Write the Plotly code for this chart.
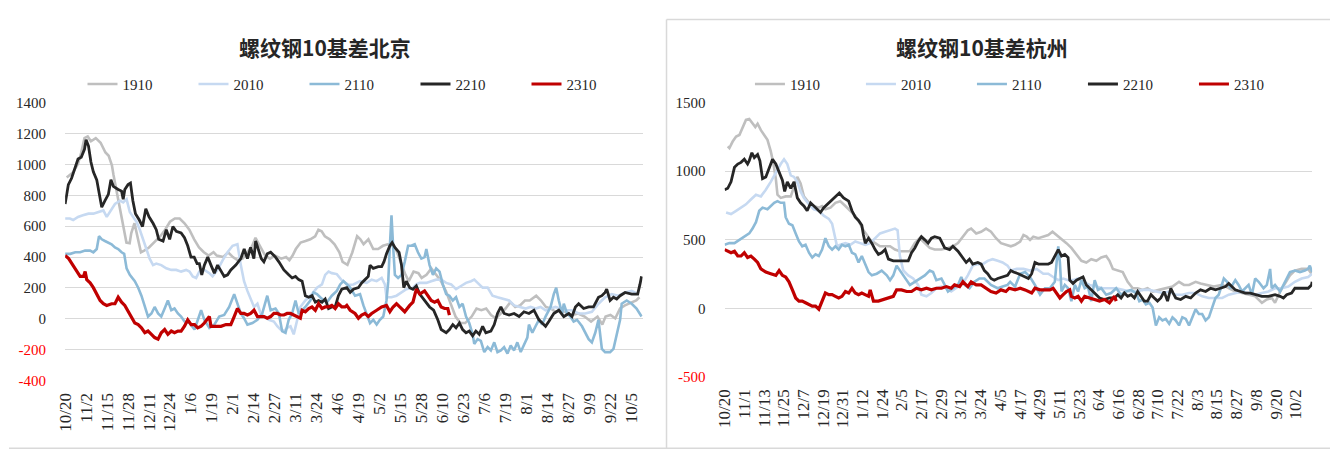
import pandas as pd
import plotly.graph_objects as go

BASE_DATE = "2023-10-20"
SPAN_DAYS = 358
SERIES = ["1910", "2010", "2110", "2210", "2310"]
TITLE_BJ = "螺纹钢10基差北京"
TITLE_HZ = "螺纹钢10基差杭州"

# ---------------- 北京 (left) : day offsets from 10/20 and basis values ----------------
BJ_1910_DAY = [1,5,8,10,12,14,16,19,22,25,27,29,30,32,34,36,38,40,41,43,45,47,49,52,55,59,62,65,68,71,
               74,77,80,83,86,89,92,94,98,101,104,107,110,113,116,118,120,122,124,127,130,134,137,139,141,143,146,149,152,155,
               157,159,161,164,167,170,172,175,178,181,183,185,188,191,194,197,200,203,205,208,211,213,216,219,221,224,227,230,233,236,
               239,242,245,248,252,255,258,261,264,267,270,273,276,279,282,285,288,292,295,298,301,304,307,310,314,318,322,326,330,333,
               335,338,341,344,347,351,354,356]
BJ_1910_VAL = [915,950,1004,1077,1170,1181,1150,1170,1140,1077,1056,994,931,827,723,598,494,490,556,619,
               515,431,442,462,494,535,577,629,650,650,619,577,515,462,431,410,431,410,400,431,
               400,379,390,431,473,525,483,452,410,390,410,390,400,379,410,452,494,504,515,535,
               577,567,535,515,483,431,369,350,430,535,515,483,515,452,452,473,483,473,452,369,
               285,244,306,296,265,285,327,285,244,181,98,15,-27,-27,15,67,56,67,25,4,
               35,67,108,77,87,119,119,150,119,77,67,46,56,46,25,35,15,-17,15,-37,
               15,25,4,67,87,108,119,140]

BJ_2010_DAY = [0,3,5,8,11,14.5,17.5,20.6,23.7,25.8,27.8,30.9,34,36,38.1,40.1,42.2,44.2,46.3,48.3,
               50.4,52.4,54.5,56.5,59.6,62.7,65.8,68.9,71.9,75,77.1,79.1,81.2,83.2,86.3,89.4,91.4,94.5,97.6,100.7,
               103.8,106.8,108.9,110.9,113,115,117.1,119.2,121.2,123.3,126.3,129.4,131.5,133.5,135.6,137.6,139.7,141.7,143.8,145.8,
               148.9,151,153,156.1,159.2,161.2,163.3,165.3,168.4,171.5,175.6,
               178.7,182.8,186.9,190,193.1,196.2,198.2,199.2,202.3,205.4,208.5,211.5,215.6,217.7,219.8,223.9,226.9,230,233.1,236.2,
               239.3,242.3,245.4,248.5,251.6,253.6,255.7,258.8,261.9,264.9,268,271.1,275.2,278.3,281.4,285.5,288.5,291.6,294.7,297.8,
               300.9,303.9,307,310.1,314.2,318.3,322.4,326.5,330.6,334.7,338.8,342.9,347.1,351.2,355.3]
BJ_2010_VAL = [650,650,640,660,671,681,681,692,702,660,692,744,765,754,775,692,660,629,577,515,
               452,390,348,358,348,327,317,317,306,317,306,275,265,306,317,296,275,317,379,431,
               473,483,348,244,181,129,77,98,35,15,-6,-17,-48,-69,-79,-58,-48,-100,-6,77,
               119,140,160,202,223,285,306,296,290,250,220,
               223,244,233,254,244,265,223,140,140,150,171,192,202,223,233,233,244,254,254,233,
               223,192,213,233,244,254,233,202,202,150,140,129,119,87,77,67,77,67,77,56,
               67,77,67,56,56,35,35,46,98,140,160,150,171,181,160]

BJ_2110_DAY = [0,3.2,6.3,9.3,12.4,15.5,17.5,19.6,21,22.7,24.7,26.8,28.8,30.9,32.9,35,36.6,38.1,40.1,43.2,
               45.3,47.3,49.4,51.4,53.5,55.5,57.6,59.6,61.7,63.7,65.8,67.8,69.9,71.9,74,77.1,80.2,82.2,84.3,86.3,
               89.4,92.5,95.5,98.6,101.7,104.8,106.8,108.9,110.9,113,116.1,119.2,122.2,125.3,127.4,130.4,132.5,134.5,136.6,138.6,
               140.7,142.8,144.8,146.9,148.9,152,154,156.1,159.2,162.3,165.3,168.4,170.5,172.5,174.6,
               176.7,179.7,182.8,184.9,186.9,189,191,193.1,195.1,197.2,199.2,200.3,201.3,202.3,203.3,204.4,206.4,208.5,210.5,211.5,
               212.6,214.6,216.7,218.7,220.8,222.8,223.9,225.9,228,230,232.1,234.1,236.2,238.2,240.3,242.3,244.4,246.4,248.5,250.5,
               252.6,253.6,255.7,257.7,259.8,261.9,263.9,266,268,270.1,272.1,274.2,276.2,278.3,280.3,282.4,284.4,286.5,287.5,289.6,
               291.6,293.7,295.7,297.8,300.9,302.9,304.4,306,308.1,309.1,311.1,313.2,315.2,317.3,320.4,322.4,324.5,326.5,328.6,330.6,
               331.6,332.7,334.7,337.8,339.9,341.9,344,345,348.1,351.2,354.2,357.3]
BJ_2110_VAL = [421,421,431,431,442,442,431,452,535,515,504,494,483,462,452,431,421,327,285,244,
               202,150,77,15,35,77,35,15,67,119,56,67,35,15,-17,-27,-69,-6,56,-6,
               -58,-37,15,25,77,160,98,35,4,-37,-27,-6,35,150,56,67,35,-79,-90,-6,
               35,119,35,56,77,119,171,160,129,108,150,181,223,244,223,
               202,150,160,87,35,-27,-6,-37,-6,15,119,244,473,671,473,285,265,285,369,410,
               473,473,483,431,390,400,452,348,285,327,306,223,160,150,119,140,77,98,15,-27,
               -100,-162,-131,-142,-215,-183,-204,-152,-215,-204,-183,-225,-173,-204,-152,-215,-173,-121,-37,-90,
               -48,-6,-37,15,77,160,202,119,35,98,35,15,-17,-6,-48,-90,-131,-152,-90,-6,
               -100,-194,-215,-215,-194,-110,-6,98,119,98,67,15]

BJ_2210_DAY = [0,2,4,6,8,10,12,13,14.5,16,17.5,19.6,21,22.7,24.7,26.8,28.4,29.9,32.9,35,
               36,37,39,40.5,42,43.6,46,48,50,52,54.5,56.5,58,60.7,62.7,64.8,66.8,68.9,71.9,74,
               76,78,80,81.8,83.2,84.7,86.3,88.4,90.4,92.5,94.5,96.6,98.6,100.7,102.7,105.8,108.9,111,113,115,
               117,118.1,120.2,121.6,123.2,125.3,127.4,130.4,132.5,135.6,138.6,140.7,142.8,144.8,146.9,148.9,151,153,155.1,157.1,
               159.2,161.2,163.3,165.3,167.4,169.4,171.5,174.6,
               176.7,178.7,181.8,183.8,185.9,187.9,189,191,194.1,196.2,197.6,199.2,201.3,202.7,204.4,205.4,207,208.5,209.9,211.5,
               213.6,215.6,217.7,219.8,222.8,225.9,228.4,231,233.1,236.2,238.2,240.3,242.3,244.4,246.4,248.5,250.5,252.6,254.6,256.7,
               258.8,260.8,263.9,266,268,270.1,272.1,275.2,278.3,281.4,284.4,287.5,290.6,293.7,295.7,297.8,299.8,302.9,306,309.1,
               312.2,314.2,316.3,318.3,321.4,324.5,327.5,330.6,332.7,334.7,335.7,337.8,339.9,341.9,344,347.1,351.2,354.9,356.3,357.3]
BJ_2210_VAL = [744,869,910,973,1035,1046,1098,1160,1119,1015,952,900,827,723,765,806,900,858,838,827,
               775,838,869,879,765,681,640,598,713,661,619,577,515,504,577,515,598,567,556,525,
               473,400,400,358,358,285,348,400,348,296,348,306,275,285,317,348,390,452,390,462,
               390,504,431,390,369,421,431,400,369,317,285,265,275,254,244,150,140,150,108,119,
               108,129,67,77,77,150,192,202,
               171,192,202,233,254,275,348,327,338,338,369,421,473,494,462,452,431,348,202,244,
               202,192,213,160,119,77,56,-6,-69,-90,-69,-37,-58,-27,-69,-90,-79,-110,-79,-100,
               -48,-90,-79,-37,35,77,35,25,35,15,46,35,56,-6,-27,-48,-17,35,56,15,
               35,15,77,98,67,77,77,140,150,171,192,119,140,129,150,171,160,160,223,275]

BJ_2310_DAY = [0,2.2,4.2,6.3,8.3,9.3,11.4,12.4,13.4,15.5,17.5,19.6,21.7,23.7,25.8,28.8,30.9,32.9,35,37,
               39.1,41.2,43.2,45.3,47.3,49.4,51.4,53.5,55.5,57.6,59.6,61.7,63.7,65.8,67.8,69.9,71.9,74,76,78.1,
               80.2,82.2,84.3,86.3,89.4,90.4,93.5,96.6,99.7,102.7,104.8,106.8,108.9,110.9,113,115,117.1,119.2,121.2,123.3,
               125.3,127.4,129.4,131.5,133.5,135.6,137.6,139.7,141.7,143.8,145.8,146.9,148.9,151,153,155.1,157.1,159.2,161.2,163.3,
               165.3,167.4,169.4,171.5,173.5,174.6,
               176.7,179.7,181.8,183.8,185.9,187.9,190,193.1,196.2,199.2,201.3,203.3,205.4,207.4,210.5,213.6,215.6,217.7,219.8,222.8,
               224.9,226.9,229,231,233.1,235.2,237.2,238.2]
BJ_2310_VAL = [410,390,358,327,296,275,275,306,254,233,202,160,119,98,87,98,98,140,108,87,
               46,4,-27,-37,-58,-90,-79,-100,-121,-131,-90,-69,-100,-79,-90,-79,-79,-48,-6,-37,
               -37,-58,-48,-27,15,-48,-48,-48,-37,-37,15,67,35,35,25,35,56,15,15,15,
               4,15,35,35,25,25,35,35,25,15,4,56,46,67,77,56,98,67,77,77,
               87,67,98,77,77,87,
               56,35,4,25,35,15,35,56,77,87,46,77,98,77,46,87,108,192,160,181,
               150,119,108,119,77,67,67,25]

# ---------------- 杭州 (right) ----------------
HZ_1910_DAY = [1.9,2.9,4.9,7,9,11,13,15,17,18.7,20.1,22.1,24.1,26.1,28.1,29.6,31.2,32.2,34.2,37.2,
               40.3,42.3,44.3,46.3,48.3,51.4,54.4,57.4,59.4,61.4,64.5,67.5,70.5,73.6,76.6,79.6,82.6,84.6,86.7,88.7,
               91.7,94.7,97.8,100.8,103.8,106.8,109.9,112.9,115.9,118.9,122,125,128,132.1,136.1,139.1,142.2,145.2,148.2,150.2,
               153.3,156.3,159.3,162.3,165.4,168.4,171.4,174.4,
               177,180.1,182.1,184.1,186.1,188.1,191.2,194.2,197.2,199.8,202.3,205.3,208.3,211.3,214.4,217.4,220.4,223.4,226.5,229.5,
               232.5,234.5,236.6,239.6,242.6,245.6,248.7,251.7,254.7,257.7,260.8,264.8,268.8,272.9,276.9,279.9,283,287,290,294.1,
               298.1,303.2,307.2,311.2,315.3,319.3,323.3,327.4,330.4,333.4,335.4,338.5,341.5,344.5,347.5,351.6,355.6,357.6]
HZ_1910_VAL = [1181,1169,1216,1252,1264,1322,1374,1381,1346,1322,1346,1299,1264,1228,1146,1064,946,828,805,816,
               816,887,958,911,816,769,746,734,746,722,734,769,781,746,711,675,616,569,534,499,
               475,452,452,452,428,416,416,416,475,511,475,440,428,428,440,452,475,522,569,581,
               546,558,581,558,511,475,463,452,
               463,487,534,522,499,522,511,522,534,558,534,499,475,440,393,346,334,358,346,370,
               381,346,287,275,264,193,146,146,134,146,122,134,146,158,193,170,170,193,181,170,
               158,170,146,122,111,99,87,40,64,75,40,122,181,240,275,287,287,252]

HZ_2010_DAY = [0.9,3.9,7,10,13,16,19.1,22.1,25.1,28.1,31.2,34.2,36.2,38.2,40.3,42.3,44.3,46.3,48.3,51.4,
               54.4,57.4,60.4,63.5,65.5,67.1,68.5,70.5,73.6,76.6,79.6,82.6,85.7,88.7,91.7,94.7,97.8,100.8,103.8,105.4,
               106.8,108.9,111.9,114.9,117.9,119.9,123,126,129,132.1,135.1,138.1,141.1,145.2,148.2,151.2,154.3,157.3,160.3,163.3,
               166.4,169.4,172.4,174.4,
               178,182.1,186.1,190.1,194.2,197.2,200.2,203.3,206.3,209.3,212.3,215.4,218.4,222.4,226.5,230.5,234.5,238.6,242.6,246.6,
               250.7,254.7,258.8,262.8,266.8,270.9,274.9,278.9,283,287,291,295.1,299.1,303.2,307.2,311.2,315.3,319.3,323.3,327.4,
               331.4,335.4,339.5,343.5,347.5,351.6,355.6,358]
HZ_2010_VAL = [699,687,711,734,758,793,828,816,864,922,993,1052,1087,1052,969,958,922,852,805,758,
               722,711,675,652,616,522,452,463,475,463,487,475,463,475,511,546,558,569,581,569,
               381,275,240,217,170,99,87,111,146,158,146,122,146,181,240,311,322,322,346,358,
               346,334,311,275,
               287,287,275,287,252,252,228,205,217,205,205,217,193,170,158,146,146,146,134,122,
               122,134,134,122,111,122,99,99,111,111,87,75,75,75,99,111,122,111,99,111,
               122,146,146,158,193,217,228,252]

HZ_2110_DAY = [0,2.9,6,9,12,15,17,19.1,21.1,23.1,26.1,28.1,30.2,32.2,34.2,36.2,37.2,39.2,41.3,43.3,
               45.3,47.3,49.3,51.4,53.4,55.4,57.4,59.4,61.4,63.5,65.5,67.5,69.5,71.5,73.6,75.6,77.6,79.6,81.6,83.6,
               85.7,87.7,89.7,92.7,95.7,98.8,100.8,102.8,104.8,106.8,108.9,110.9,112.9,115.9,118.9,122,125,127,129,132.1,
               134.1,136.1,139.1,142.2,144.2,146.2,149.2,152.2,155.3,158.3,162.3,166.4,169.4,172.4,
               174,177,180.1,183.1,186.1,189.1,192.2,195.2,198.2,201.2,202.3,203.3,204.3,205.3,207.3,209.3,211.3,213.4,215.4,217.4,
               219.4,221.4,223.4,225.5,227.5,229.5,232.5,235.5,238.6,241.6,244.6,247.7,250.7,252.7,254.7,256.7,258.8,260.8,262.8,264.8,
               266.8,268.8,270.9,272.9,274.9,276.9,278.9,281,283,285,287,289,291,293.1,295.1,297.1,299.1,301.1,304.2,306.2,
               308.2,311.2,313.2,315.3,317.3,319.3,321.3,323.3,325.4,328.4,330.4,332.4,333.4,335.4,338.5,340.5,342.5,344.5,347.5,350.6,
               353.6,355.6,356.6,358]
HZ_2110_VAL = [464,475,475,499,522,546,581,628,711,734,722,746,769,781,769,769,664,616,605,546,
               487,452,463,405,370,393,381,428,511,452,428,452,428,463,452,463,405,393,334,381,
               322,264,240,252,275,240,205,240,311,275,240,205,170,193,217,240,275,264,205,217,
               170,122,146,170,228,170,146,193,217,217,170,146,158,170,
               193,158,252,264,228,170,99,146,146,193,334,452,334,122,170,146,52,170,122,205,
               146,158,52,205,134,146,99,111,146,99,122,134,111,52,64,28,40,5,-125,-66,
               -89,-78,-113,-66,-89,-125,-66,-78,-125,-66,-7,-42,-42,-89,-66,5,75,99,217,193,
               146,205,170,122,146,170,99,217,193,146,170,287,146,170,122,170,217,264,275,264,
               275,287,311,264]

HZ_2210_DAY = [0,1.9,3.9,6,8,10,12,14,15,16.6,18.1,20.1,21.5,23.1,25.1,27.1,29.2,31.2,33.2,35.2,
               36.6,38.2,40.3,42.3,44.3,46.3,48.3,50.3,52.4,54.4,56.4,58.4,60.4,63.5,66.5,69.9,72.5,75.6,77.6,79.6,
               81.6,83.6,84.6,85.7,87.7,89.7,91.7,93.7,95.7,97.8,99.8,102.8,105.8,108.9,111.9,113.9,115.9,117.9,119.9,122,
               124,126,128,131.1,134.1,137.1,139.1,142.2,145.2,147.2,149.2,151.2,154.3,156.3,158.3,160.3,162.3,164.3,166.4,169.4,
               172.4,174.4,
               176,179,181.1,183.1,185.1,187.1,189.1,191.2,194.2,197.2,199.2,201.2,203.3,205.3,207.3,209.3,210.3,212.3,214.4,216.4,
               218.4,220.4,222.4,224.5,226.5,228.5,231.5,234.5,237.6,239.6,241.6,243.6,245.6,247.7,249.7,251.7,253.7,255.7,257.7,259.8,
               261.8,263.8,265.8,267.8,269.9,271.9,273.3,274.9,277.9,281,284,287,290,293.1,296.1,299.1,302.1,305.2,307.2,309.2,
               311.2,314.3,317.3,320.3,323.3,327.4,331.4,335.4,338.5,340.5,342.5,345.5,347.5,351.6,355.6,357.6,358]
HZ_2210_VAL = [864,875,922,1028,1052,1064,1087,1052,1076,1134,1099,1122,1076,946,958,1016,1087,1052,993,934,
               852,922,875,922,805,769,746,711,769,746,722,699,734,769,805,840,805,781,711,664,
               640,605,534,475,511,475,428,393,405,428,358,346,346,346,346,405,440,487,522,499,
               475,511,522,511,440,428,452,416,370,334,358,322,334,322,275,252,217,205,217,228,
               240,275,
               264,252,240,228,217,252,334,322,322,322,334,381,428,381,393,370,205,181,205,217,
               228,170,146,122,99,75,64,75,75,99,75,111,87,99,75,122,87,52,52,99,
               75,52,75,122,52,146,111,75,64,87,75,111,134,122,146,134,146,158,181,158,
               134,122,111,111,99,87,87,99,87,75,99,111,146,146,146,170,193]

HZ_2310_DAY = [0,1.9,3.9,6,8,10,12,14,16,18.1,20.1,22.1,25.1,28.1,31.2,33.2,35.2,37.2,39.2,41.3,
               43.3,45.3,47.3,49.3,51.4,53.4,55.4,57.4,59.4,61.4,63.5,65.5,67.5,69.5,71.5,73.6,75.6,77.6,79.6,81.6,
               83.6,85.7,87.7,88.7,90.7,93.7,96.8,99.8,102.8,104.8,107.8,110.9,113.9,116.9,119.9,123,126,129,132.1,135.1,
               138.1,140.1,143.2,145.2,148.2,150.2,153.3,156.3,159.3,162.3,165.4,168.4,171.4,173.4,
               177,180.1,183.1,185.1,187.1,189.1,192.2,195.2,198.2,200.2,202.3,204.3,206.3,208.3,210.3,211.3,213.4,215.4,217.4,219.4,
               222.4,225.5,228.5,231.5,234.5,237.6,238.6]
HZ_2310_VAL = [428,416,405,416,381,381,405,370,381,358,334,287,264,252,240,275,240,228,193,134,
               75,52,52,40,28,16,16,-7,52,111,99,99,87,75,87,122,111,146,111,99,
               111,99,87,134,52,52,64,75,87,134,134,122,122,146,134,146,134,146,146,158,
               146,170,158,193,158,193,170,170,146,122,111,134,122,146,
               134,146,134,122,111,146,134,134,134,146,111,75,99,122,134,87,75,87,52,87,
               75,64,52,64,40,87,52]

BJ_Y_TICKS = [-400, -200, 0, 200, 400, 600, 800, 1000, 1200, 1400]
HZ_Y_TICKS = [-500, 0, 500, 1000, 1500]

COLORS = {"1910": "#BFBFBF", "2010": "#C6D9F1", "2110": "#8CBAD7", "2210": "#262626", "2310": "#C00000"}
WIDTHS = {"1910": 2.6, "2010": 2.6, "2110": 2.6, "2210": 2.8, "2310": 3.2}

SERIF = "Liberation Serif, Times New Roman, serif"
CJK = "Noto Sans CJK SC, sans-serif"
TXT = "#262626"
W, H = 1330, 463


def px_x(p):
    return p / W


def px_y(p):
    return 1 - p / H


base = pd.Timestamp(BASE_DATE)
end = base + pd.Timedelta(days=SPAN_DAYS)

bj = {"1910": (BJ_1910_DAY, BJ_1910_VAL), "2010": (BJ_2010_DAY, BJ_2010_VAL), "2110": (BJ_2110_DAY, BJ_2110_VAL),
      "2210": (BJ_2210_DAY, BJ_2210_VAL), "2310": (BJ_2310_DAY, BJ_2310_VAL)}
hz = {"1910": (HZ_1910_DAY, HZ_1910_VAL), "2010": (HZ_2010_DAY, HZ_2010_VAL), "2110": (HZ_2110_DAY, HZ_2110_VAL),
      "2210": (HZ_2210_DAY, HZ_2210_VAL), "2310": (HZ_2310_DAY, HZ_2310_VAL)}

fig = go.Figure()
for data, xa, ya, lg in [(bj, "x", "y", "legend"), (hz, "x2", "y2", "legend2")]:
    for s in SERIES:
        days, vals = data[s]
        x = base + pd.to_timedelta(days, unit="D")
        fig.add_trace(go.Scatter(x=x, y=vals, mode="lines", name=s, xaxis=xa, yaxis=ya, legend=lg,
                                 line=dict(color=COLORS[s], width=WIDTHS[s]), hoverinfo="x+y+name"))


def ytext(v):
    return f"<span style='color:#FF0000'>{v}</span>" if v < 0 else str(v)


xcommon = dict(type="date", range=[base, end], tick0=BASE_DATE, tickformat="%-m/%-d", tickangle=-90,
               showgrid=False, showline=False, zeroline=False, ticks="",
               tickfont=dict(family=SERIF, size=17, color=TXT), ticklabelstandoff=8)
ycommon = dict(showgrid=True, gridcolor="#D9D9D9", gridwidth=1, zeroline=False, showline=False, ticks="",
               tickfont=dict(family=SERIF, size=15, color=TXT), ticklabelstandoff=18)

fig.update_layout(
    width=W, height=H, autosize=False,
    margin=dict(l=0, r=0, t=0, b=0, pad=0),
    paper_bgcolor="white", plot_bgcolor="white",
    showlegend=True,
    xaxis=dict(domain=[px_x(56.5), px_x(638)], anchor="y", dtick=13 * 86400000, **xcommon),
    yaxis=dict(domain=[px_y(386), px_y(98)], anchor="x", range=[-400, 1400],
               tickvals=BJ_Y_TICKS, ticktext=[ytext(v) for v in BJ_Y_TICKS], **ycommon),
    xaxis2=dict(domain=[px_x(720.5), px_x(1312)], anchor="y2", dtick=12 * 86400000, **xcommon),
    yaxis2=dict(domain=[px_y(382), px_y(98)], anchor="x2", range=[-500, 1500],
                tickvals=HZ_Y_TICKS, ticktext=[ytext(v) for v in HZ_Y_TICKS], **ycommon),
    legend=dict(orientation="h", x=px_x(74), xanchor="left", y=px_y(79), yanchor="middle",
                font=dict(family=SERIF, size=15, color=TXT), entrywidth=66, bgcolor="rgba(0,0,0,0)",
                traceorder="normal"),
    legend2=dict(orientation="h", x=px_x(746), xanchor="left", y=px_y(79), yanchor="middle",
                 font=dict(family=SERIF, size=15, color=TXT), entrywidth=66, bgcolor="rgba(0,0,0,0)",
                 traceorder="normal"),
    annotations=[
        dict(text=f"<b>{TITLE_BJ}</b>", x=px_x(318), y=px_y(40), xref="paper", yref="paper",
             showarrow=False, xanchor="center", yanchor="middle", font=dict(family=CJK, size=21, color=TXT)),
        dict(text=f"<b>{TITLE_HZ}</b>", x=px_x(980), y=px_y(40), xref="paper", yref="paper",
             showarrow=False, xanchor="center", yanchor="middle", font=dict(family=CJK, size=21, color=TXT)),
    ],
    shapes=[
        dict(type="line", xref="paper", yref="paper", x0=px_x(662), x1=px_x(662), y0=px_y(12), y1=px_y(456),
             line=dict(color="#D9D9D9", width=1.5)),
        dict(type="line", xref="paper", yref="paper", x0=0, x1=1, y0=px_y(456), y1=px_y(456),
             line=dict(color="#D9D9D9", width=1.5)),
        dict(type="line", xref="paper", yref="paper", x0=px_x(662), x1=1, y0=px_y(12), y1=px_y(12),
             line=dict(color="#D9D9D9", width=1.5)),
    ],
)

fig.write_html(
    "out.html",
    config={"displayModeBar": False, "responsive": False},
    post_script="document.body.style.margin='0';document.body.style.overflow='hidden';",
)
